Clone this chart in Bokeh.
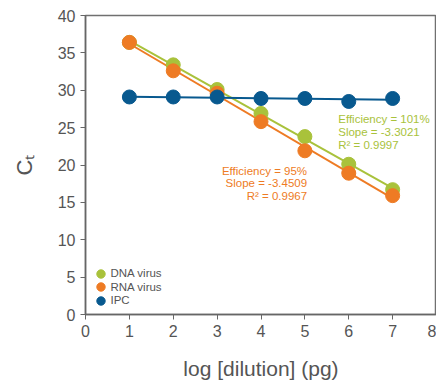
import numpy as np
from bokeh.plotting import figure
from bokeh.models import Legend, LegendItem, FixedTicker, Range1d
from bokeh.core.properties import value
from bokeh.embed import file_html
from bokeh.resources import INLINE

dilution = [1, 2, 3, 4, 5, 6, 7]
dna_ct = [36.4, 33.4, 30.1, 26.9, 23.8, 20.1, 16.7]
rna_ct = [36.4, 32.6, 29.6, 25.8, 21.9, 18.9, 15.9]
ipc_ct = [29.1, 29.1, 29.1, 28.9, 28.9, 28.5, 28.9]
dna_stats = ["Efficiency = 101%", "Slope = -3.3021", "R² = 0.9997"]
rna_stats = ["Efficiency = 95%", "Slope = -3.4509", "R² = 0.9967"]
series_names = ["DNA virus", "RNA virus", "IPC"]
x_ticks = [0, 1, 2, 3, 4, 5, 6, 7, 8]
y_ticks = [0, 5, 10, 15, 20, 25, 30, 35, 40]

GREEN = "#a9c23b"
ORANGE = "#ee7b24"
BLUE = "#08598f"
FONT = "Liberation Sans"

p = figure(width=436, height=383, output_backend="svg", toolbar_location=None,
           x_range=Range1d(0, 8), y_range=Range1d(0, 40),
           min_border_left=85, min_border_right=0, min_border_top=15, min_border_bottom=69)
p.xgrid.visible = False
p.ygrid.visible = False
p.outline_line_color = "#707070"
p.outline_line_width = 1.5

x = np.array(dilution, dtype=float)
renderers = []
for ys, col in [(dna_ct, GREEN), (rna_ct, ORANGE), (ipc_ct, BLUE)]:
    m, b = np.polyfit(x, np.array(ys), 1)
    xs = [x[0], x[-1]]
    p.line(xs, [m * xs[0] + b, m * xs[1] + b], line_color=col, line_width=2)
for ys, col in [(dna_ct, GREEN), (rna_ct, ORANGE), (ipc_ct, BLUE)]:
    r = p.scatter(dilution, ys, size=14, fill_color=col, line_color=col)
    renderers.append(r)

# stats annotations
p.text(x=[5.76] * 3, y=[26.15, 24.41, 22.68], text=dna_stats, text_color=GREEN,
       text_font=value(FONT), text_font_size="11.5px", text_align="left", text_baseline="middle")
p.text(x=[5.05] * 3, y=[19.26, 17.53, 15.79], text=rna_stats, text_color=ORANGE,
       text_font=value(FONT), text_font_size="11.5px", text_align="right", text_baseline="middle")

# legend: one single-item legend per series so rows can sit 13px apart with large markers
for i, (n, r) in enumerate(zip(series_names, renderers)):
    lg = Legend(items=[LegendItem(label=n, renderers=[r])],
                location=(4.5, 3.5 + 13.5 * (2 - i)), padding=0, margin=0, spacing=0,
                label_height=21, glyph_height=21, glyph_width=21, label_standoff=0,
                label_text_font=FONT, label_text_font_size="11.5px", label_text_color="#555555",
                background_fill_alpha=0, border_line_alpha=0)
    p.add_layout(lg)

for ax in (p.xaxis[0], p.yaxis[0]):
    ax.major_label_text_font = FONT
    ax.major_label_text_font_size = "16px"
    ax.major_label_text_color = "#555555"
    ax.axis_label_text_font = FONT
    ax.axis_label_text_font_style = "normal"
    ax.axis_label_text_color = "#555555"
    ax.axis_label_text_font_size = "21px"
    ax.axis_line_color = "#666666"
    ax.axis_line_width = 1.5
    ax.major_tick_line_color = "#666666"
    ax.major_tick_out = 5
    ax.major_tick_in = 0
    ax.minor_tick_line_color = None

p.xaxis.ticker = FixedTicker(ticks=x_ticks)
p.yaxis.ticker = FixedTicker(ticks=y_ticks)
p.xaxis.axis_label = "log [dilution] (pg)"
p.yaxis.axis_label = "Cₜ"
p.xaxis.axis_label_standoff = 17
p.yaxis.axis_label_standoff = 18
p.yaxis.axis_label_text_font_size = "22px"

open("out.html", "w").write(file_html(p, INLINE))
